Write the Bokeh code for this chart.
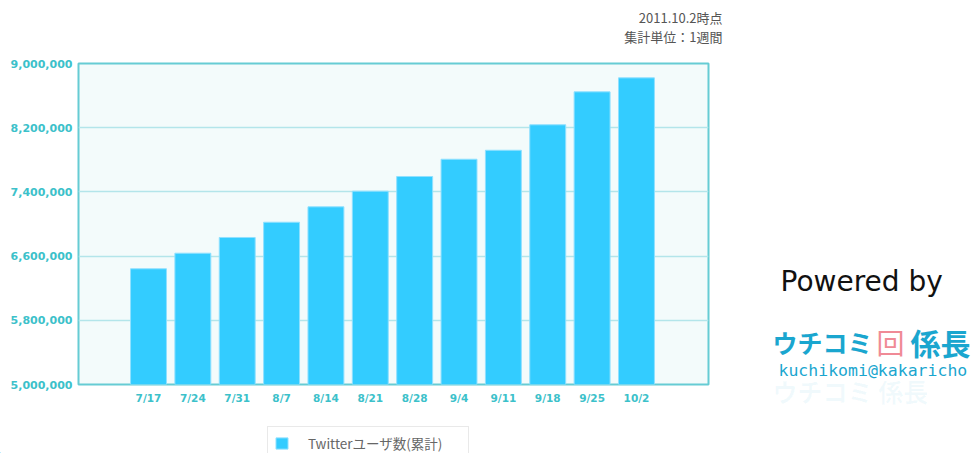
from bokeh.plotting import figure
from bokeh.layouts import row, column
from bokeh.models import (Range1d, FixedTicker, Legend, LegendItem,
                          NumeralTickFormatter, ColumnDataSource)
from bokeh.core.properties import value
from bokeh.embed import file_html
from bokeh.resources import INLINE

# ---- data ----
weeks = ["7/17", "7/24", "7/31", "8/7", "8/14", "8/21", "8/28",
         "9/4", "9/11", "9/18", "9/25", "10/2"]
users = [6442000, 6636000, 6832000, 7022000, 7214000, 7409000, 7592000,
         7807000, 7919000, 8236000, 8647000, 8821000]
y_ticks = [5000000, 5800000, 6600000, 7400000, 8200000, 9000000]
series_name = "Twitterユーザ数(累計)"
note_lines = ["2011.10.2時点", "集計単位：1週間"]

TEAL = "#3cc1ca"
BAR = "#33ccff"
BAR_EDGE = "#8fe0ff"
LOGO = "#1aa6cf"


def blank(width, height, x0, x1, y0, y1):
    f = figure(width=width, height=height, output_backend="svg",
               toolbar_location=None, x_axis_type=None, y_axis_type=None,
               x_range=Range1d(x0, x1), y_range=Range1d(y0, y1),
               min_border=0, min_border_left=0, min_border_right=0,
               min_border_top=0, min_border_bottom=0, frame_align=False)
    f.outline_line_color = None
    f.background_fill_color = "white"
    f.border_fill_color = "white"
    f.grid.visible = False
    return f


# ---- top notes (pixel coordinates, y downward) ----
top = blank(740, 55, 0, 740, 55, 0)
top.text(x=[722, 722], y=[17, 36], text=note_lines, text_align="right",
         text_baseline="alphabetic", text_font=value("Noto Sans CJK JP"),
         text_font_size="13px", text_color="#555555")

# ---- main chart ----
idx = list(range(len(weeks)))
src = ColumnDataSource(dict(x=idx, top=users, week=weeks))

p = figure(width=740, height=366, output_backend="svg", toolbar_location=None,
           x_range=Range1d(-1.578, 12.624), y_range=Range1d(5000000, 9000000),
           min_border_left=78, min_border_right=32,
           min_border_top=8, min_border_bottom=37, frame_align=False)
p.border_fill_color = "white"
p.background_fill_color = "#f3fbfb"
p.outline_line_color = "#66ccd4"
p.outline_line_width = 2

bars = p.vbar(x="x", top="top", bottom=5000000, width=0.81, source=src,
              fill_color=BAR, line_color=BAR_EDGE, line_width=1)

p.xaxis.ticker = FixedTicker(ticks=idx)
p.xaxis.major_label_overrides = {i: w for i, w in zip(idx, weeks)}
p.yaxis.ticker = FixedTicker(ticks=y_ticks)
p.yaxis.formatter = NumeralTickFormatter(format="0,0")
for ax in (p.xaxis, p.yaxis):
    ax.axis_line_color = None
    ax.major_tick_line_color = None
    ax.minor_tick_line_color = None
    ax.major_tick_out = 0
    ax.major_tick_in = 0
    ax.minor_tick_out = 0
    ax.minor_tick_in = 0
    ax.major_label_text_color = TEAL
    ax.major_label_text_font = "DejaVu Sans"
    ax.major_label_text_font_style = "bold"
p.xaxis.major_label_text_font_size = "10.5px"
p.yaxis.major_label_text_font_size = "11px"
p.xaxis.major_label_standoff = 7
p.yaxis.major_label_standoff = 6

p.xgrid.grid_line_color = None
p.ygrid.grid_line_color = "#b3e5ea"
p.ygrid.grid_line_width = 1.5

# ---- legend strip ----
leg = blank(740, 32, 0, 740, 0, 32)
swatch = leg.vbar(x=[-100], top=[1], bottom=0, width=1,
                  fill_color=BAR, line_color=BAR_EDGE, line_width=1)
legend = Legend(items=[LegendItem(label=series_name, renderers=[swatch])],
                location=(267, -7), padding=6, glyph_width=15, glyph_height=14,
                label_standoff=19, label_width=154, label_height=16,
                label_text_font="Noto Sans CJK JP", label_text_font_size="13.5px",
                label_text_color="#666666", border_line_color="#d4d4d4",
                border_line_width=1, background_fill_color="white",
                background_fill_alpha=1.0, margin=0)
leg.add_layout(legend, "center")

# ---- right side: Powered by + logo (pixel coordinates, y downward) ----
logo = blank(233, 453, 740, 973, 453, 0)
logo.text(x=[780], y=[281], text=["Powered by"], text_baseline="alphabetic",
          text_font=value("DejaVu Sans"), text_font_size="28px",
          text_color="#111111")
logo.text(x=[772], y=[341], text=["ウチコミ"], text_baseline="alphabetic",
          text_font=value("Noto Sans CJK JP"), text_font_style="bold",
          text_font_size="25px", text_color=LOGO)
logo.text(x=[876], y=[341], text=["回"], text_baseline="alphabetic",
          text_font=value("Noto Sans CJK JP"), text_font_size="28px",
          text_color="#f08a96")
logo.text(x=[910], y=[341], text=["係長"], text_baseline="alphabetic",
          text_font=value("Noto Sans CJK JP"), text_font_style="bold",
          text_font_size="30px", text_color=LOGO)
logo.text(x=[778], y=[370], text=["kuchikomi@kakaricho"], text_baseline="alphabetic",
          text_font=value("DejaVu Sans Mono"), text_font_size="16.5px",
          text_color=LOGO)
logo.text(x=[772], y=[372], text=["ウチコミ  係長"], text_baseline="top",
          text_font=value("Noto Sans CJK JP"), text_font_style="bold",
          text_font_size="25px", text_color=LOGO, text_alpha=0.06)

layout = row(column(top, p, leg, spacing=0), logo, spacing=0)
open("out.html", "w").write(file_html(layout, INLINE))
